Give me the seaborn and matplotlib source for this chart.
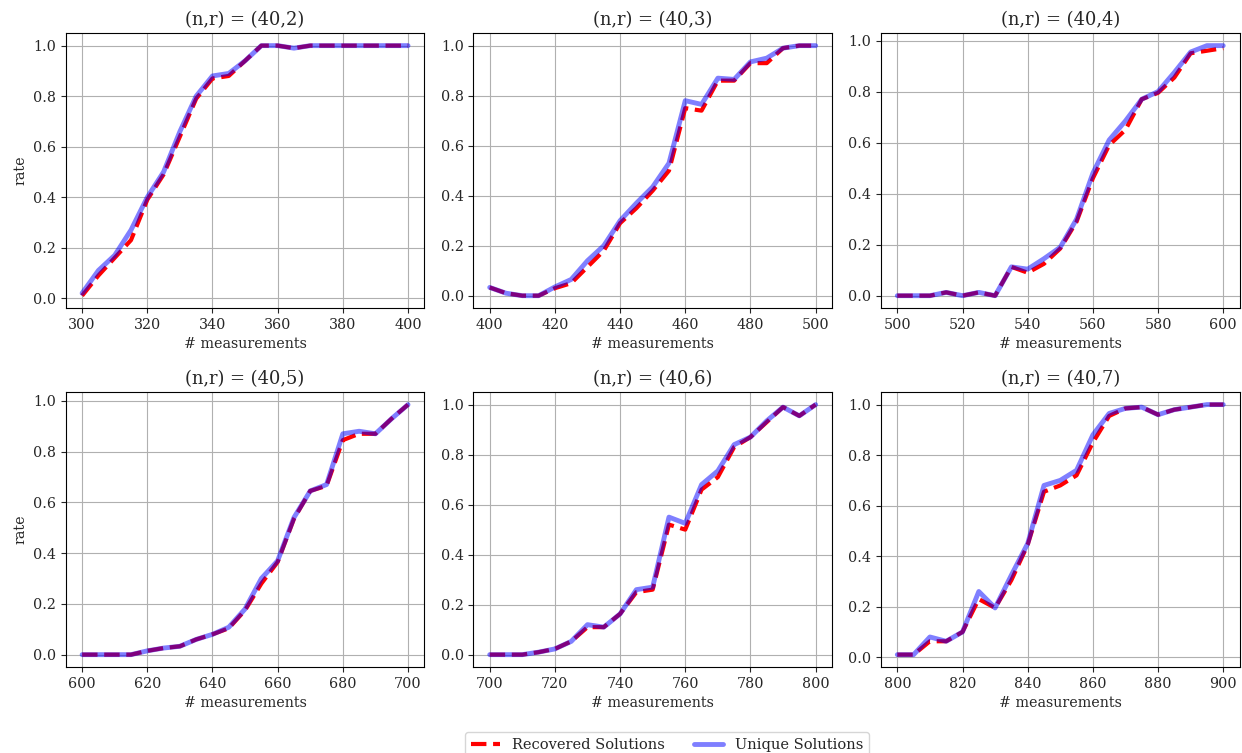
import numpy as np
import matplotlib
matplotlib.use("Agg")
import matplotlib.pyplot as plt
import seaborn as sns

N = 40
RANKS = [2, 3, 4, 5, 6, 7]
X_STARTS = [300, 400, 500, 600, 700, 800]

# recovery rates, 21 points per panel (step 5)
recovered_r2 = [0.01, 0.09, 0.16, 0.23, 0.39, 0.49, 0.64, 0.79, 0.87, 0.88, 0.94,
                1.0, 1.0, 0.99, 1.0, 1.0, 1.0, 1.0, 1.0, 1.0, 1.0]
unique_r2 = [0.02, 0.11, 0.17, 0.27, 0.40, 0.50, 0.66, 0.80, 0.88, 0.89, 0.94,
             1.0, 1.0, 0.99, 1.0, 1.0, 1.0, 1.0, 1.0, 1.0, 1.0]

recovered_r3 = [0.033, 0.01, 0.0, 0.0, 0.03, 0.05, 0.115, 0.18, 0.29, 0.35, 0.42,
                0.50, 0.75, 0.74, 0.86, 0.86, 0.93, 0.93, 0.99, 1.0, 1.0]
unique_r3 = [0.033, 0.01, 0.0, 0.0, 0.035, 0.065, 0.14, 0.20, 0.30, 0.37, 0.435,
             0.53, 0.78, 0.765, 0.87, 0.865, 0.935, 0.95, 0.99, 1.0, 1.0]

recovered_r4 = [0.0, 0.0, 0.0, 0.013, 0.0, 0.013, 0.0, 0.113, 0.09, 0.125, 0.185,
                0.29, 0.46, 0.59, 0.65, 0.77, 0.795, 0.855, 0.95, 0.96, 0.97]
unique_r4 = [0.0, 0.0, 0.0, 0.013, 0.0, 0.013, 0.0, 0.113, 0.104, 0.145, 0.19,
             0.30, 0.48, 0.61, 0.685, 0.77, 0.80, 0.875, 0.955, 0.98, 0.98]

recovered_r5 = [0.0, 0.0, 0.0, 0.0, 0.015, 0.026, 0.033, 0.06, 0.08, 0.104, 0.175,
                0.28, 0.365, 0.535, 0.645, 0.665, 0.845, 0.87, 0.87, 0.93, 0.985]
unique_r5 = [0.0, 0.0, 0.0, 0.0, 0.015, 0.026, 0.033, 0.06, 0.08, 0.108, 0.18,
             0.30, 0.37, 0.54, 0.645, 0.67, 0.87, 0.88, 0.87, 0.93, 0.985]

recovered_r6 = [0.0, 0.0, 0.0, 0.01, 0.023, 0.053, 0.11, 0.11, 0.163, 0.25, 0.26,
                0.52, 0.50, 0.66, 0.71, 0.83, 0.87, 0.93, 0.99, 0.955, 1.0]
unique_r6 = [0.0, 0.0, 0.0, 0.01, 0.023, 0.053, 0.12, 0.11, 0.163, 0.26, 0.27,
             0.55, 0.525, 0.68, 0.735, 0.84, 0.87, 0.935, 0.99, 0.955, 1.0]

recovered_r7 = [0.01, 0.01, 0.063, 0.063, 0.10, 0.23, 0.195, 0.305, 0.445, 0.655, 0.68,
                0.72, 0.85, 0.955, 0.985, 0.99, 0.96, 0.98, 0.99, 1.0, 1.0]
unique_r7 = [0.01, 0.01, 0.08, 0.063, 0.10, 0.26, 0.195, 0.325, 0.45, 0.68, 0.70,
             0.74, 0.88, 0.965, 0.985, 0.99, 0.96, 0.98, 0.99, 1.0, 1.0]

RECOVERED = [recovered_r2, recovered_r3, recovered_r4, recovered_r5, recovered_r6, recovered_r7]
UNIQUE = [unique_r2, unique_r3, unique_r4, unique_r5, unique_r6, unique_r7]


def plot_panel(ax, rank, x_start, recovered, unique, show_ylabel):
    measurements = np.arange(x_start, x_start + 101, 5)
    sns.lineplot(x=measurements, y=recovered, ax=ax, color="red", linestyle="--",
                 linewidth=3, label="Recovered Solutions")
    sns.lineplot(x=measurements, y=unique, ax=ax, color="blue", alpha=0.5,
                 linewidth=3.5, label="Unique Solutions")
    if ax.get_legend() is not None:
        ax.get_legend().remove()
    ax.set_title(f"(n,r) = ({N},{rank})", fontsize=12.9)
    ax.set_xlabel("# measurements", fontsize=10.3)
    ax.set_ylabel("rate" if show_ylabel else "", fontsize=10.3)
    ax.set_xticks(np.arange(x_start, x_start + 101, 20))
    ax.grid(True, color="#b0b0b0", linewidth=0.8)
    ax.tick_params(labelsize=10.3)


def main():
    sns.set_style("ticks")
    plt.rcParams["font.family"] = ["DejaVu Serif"]

    fig, axes = plt.subplots(2, 3, figsize=(12.42, 7.53), dpi=100)
    for i, ax in enumerate(axes.flat):
        plot_panel(ax, RANKS[i], X_STARTS[i], RECOVERED[i], UNIQUE[i], i % 3 == 0)
        for spine in ax.spines.values():
            spine.set_visible(True)
            spine.set_color("black")

    handles, labels = axes[0, 0].get_legend_handles_labels()
    fig.legend(handles, labels, loc="center", ncol=2, bbox_to_anchor=(0.537, 0.011),
               fontsize=10.5, frameon=True)

    plt.subplots_adjust(left=0.053, right=0.998, top=0.956, bottom=0.114,
                        wspace=0.137, hspace=0.305)
    plt.savefig("out.png", dpi=100)
    plt.close()


if __name__ == "__main__":
    main()
